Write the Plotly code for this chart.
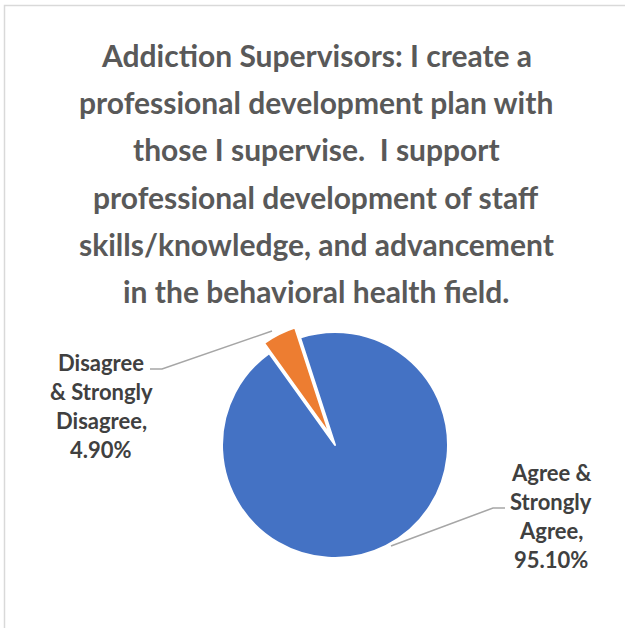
import plotly.graph_objects as go

# ---- data ----
categories = ["Agree & Strongly Agree", "Disagree & Strongly Disagree"]
values = [95.1, 4.9]
colors = ["#4472C4", "#ED7D31"]
pulls = [0, 0.1]
label_lines = [["Agree &", "Strongly", "Agree,"], ["Disagree", "& Strongly", "Disagree,"]]
title_lines = [
    "Addiction Supervisors: I create a",
    "professional development plan with",
    "those I supervise.  I support",
    "professional development of staff",
    "skills/knowledge, and advancement",
    "in the behavioral health field.",
]

W, H = 625, 628
FONT = "Lato"

def px(x):
    return x / W

def py(y):
    return 1 - y / H

# pie geometry (pixels)
cx, cy, r = 335, 445, 113
half = r * (1 + max(pulls))

fig = go.Figure(go.Pie(
    labels=categories,
    values=values,
    marker=dict(colors=colors, line=dict(color="white", width=2)),
    pull=pulls,
    sort=False,
    direction="clockwise",
    rotation=-18,
    textinfo="none",
    hoverinfo="label+percent",
    showlegend=False,
    domain=dict(x=[px(cx - half), px(cx + half)], y=[py(cy + half), py(cy - half)]),
))

annotations = []
# title lines
t0, tstep = 55, 47.2
for i, line in enumerate(title_lines):
    annotations.append(dict(
        text=line, x=px(316), y=py(t0 + i * tstep), xref="paper", yref="paper",
        xanchor="center", yanchor="middle", showarrow=False,
        font=dict(family=FONT, size=30, color="#595959", weight="bold"),
    ))

# data labels
label_pos = [(551, 472), (101, 362)]
lstep = 29.3
for k, (lx, ly) in enumerate(label_pos):
    lines = label_lines[k] + [f"{values[k]:.2f}%"]
    for i, line in enumerate(lines):
        annotations.append(dict(
            text=line, x=px(lx), y=py(ly + i * lstep), xref="paper", yref="paper",
            xanchor="center", yanchor="middle", showarrow=False,
            font=dict(family=FONT, size=22, color="#404040", weight="bold"),
        ))

shapes = []
# leader lines
leaders = [
    [(391, 546), (493, 508), (505, 508)],
    [(150, 369), (162, 369), (272, 331)],
]
for pts in leaders:
    path = "M " + " L ".join(f"{px(x)},{py(y)}" for x, y in pts)
    shapes.append(dict(type="path", path=path, xref="paper", yref="paper",
                       line=dict(color="#A6A6A6", width=1.5)))
# chart-area border
shapes.append(dict(type="rect", xref="paper", yref="paper",
                   x0=px(4.5), y0=py(700), x1=px(700), y1=py(5.5),
                   line=dict(color="#D9D9D9", width=1.5), fillcolor="rgba(0,0,0,0)"))

fig.update_layout(
    width=W, height=H,
    margin=dict(l=0, r=0, t=0, b=0),
    paper_bgcolor="white", plot_bgcolor="white",
    annotations=annotations, shapes=shapes,
)

fig.write_html("out.html")
